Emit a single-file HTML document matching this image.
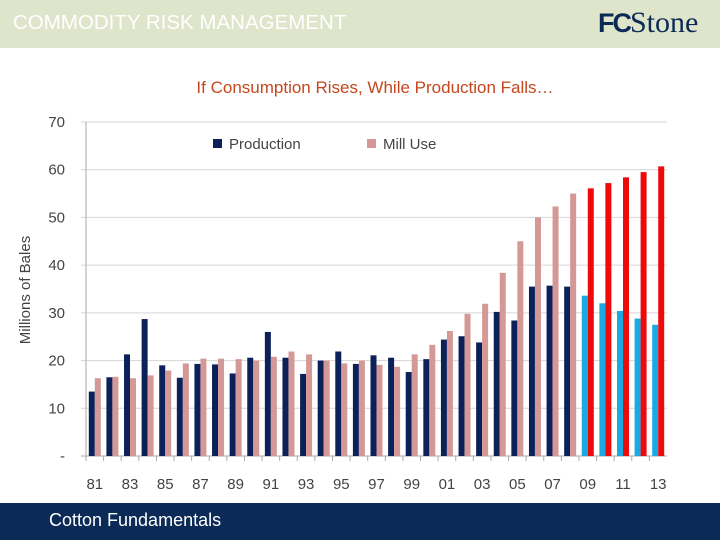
<!DOCTYPE html>
<html><head><meta charset="utf-8"><style>
body{margin:0;width:720px;height:540px;overflow:hidden;background:#fff;font-family:"Liberation Sans",sans-serif;position:relative}
.hdr{position:absolute;left:0;top:0;width:720px;height:48px;background:#dfe5cb}
.hdr .t{position:absolute;left:13px;top:11px;color:#fff;font-size:20.5px}
.logo{position:absolute;left:598px;top:6px;font-family:"Liberation Serif",serif;font-size:30px;color:#0b2a56}
.logo b{font-family:"Liberation Sans",sans-serif;font-weight:900;letter-spacing:-2px;font-size:27px}
.ftr{position:absolute;left:0;top:503px;width:720px;height:37px;background:#0b2a56}
.ftr span{position:absolute;left:49px;top:7px;color:#fff;font-size:18px}
.title{position:absolute;left:0;width:750px;text-align:center;top:78px;color:#c4471d;font-size:17px}
</style></head><body>
<div class="hdr"><span class="t">COMMODITY RISK MANAGEMENT</span>
<span class="logo"><b>FC</b>Stone</span></div>
<div class="title">If Consumption Rises, While Production Falls…</div>
<svg id="chart" width="720" height="540" style="position:absolute;left:0;top:0"></svg>
<div class="ftr"><span>Cotton Fundamentals</span></div>
<script>
const years=["81","82","83","84","85","86","87","88","89","90","91","92","93","94","95","96","97","98","99","00","01","02","03","04","05","06","07","08","09","10","11","12","13"];
const production=[13.5,16.5,21.3,28.7,19,16.4,19.3,19.2,17.3,20.6,26,20.6,17.2,20,21.9,19.3,21.1,20.6,17.6,20.3,24.4,25.1,23.8,30.2,28.4,35.5,35.7,35.5,33.6,32,30.4,28.8,27.5];
const millUse=[16.3,16.6,16.3,16.9,17.9,19.4,20.4,20.4,20.3,20,20.8,21.9,21.3,20,19.4,20,19.1,18.7,21.3,23.3,26.2,29.8,31.9,38.4,45,50,52.3,55,56.1,57.2,58.4,59.5,60.7];
const yTicks=[0,10,20,30,40,50,60,70];
const tickLabels=["-","10","20","30","40","50","60","70"];
const forecastStart=28;
const svg=document.getElementById('chart');
const NS='http://www.w3.org/2000/svg';
const x0=86,x1=667,y0=456,yTop=122;
const y=v=>y0-(v/70)*(y0-yTop);
const step=(x1-x0)/years.length;
const xc=i=>x0+step*(i+0.5);
function mk(t,a){const e=document.createElementNS(NS,t);for(const k in a)e.setAttribute(k,a[k]);svg.appendChild(e);return e;}
yTicks.forEach((v,i)=>{
 const l=mk('line',{x1:x0-5,x2:x1,y1:y(v),y2:y(v),stroke:v===0?'#aaa':'#d6d6d6','stroke-width':1});
 
 
 const t=mk('text',{x:65,y:y(v)+5,'text-anchor':'end','font-size':15,fill:'#444','font-family':'Liberation Sans,sans-serif'});
 t.textContent=tickLabels[i];
 
 
});
const ax=mk('line',{x1:x0,x2:x0,y1:yTop,y2:y0,stroke:'#aaa'});


const bw=6;
years.forEach((yr,i)=>{
 const c=xc(i);
 const tk=mk('line',{x1:x0+step*i,x2:x0+step*i,y1:y0,y2:y0+5,stroke:'#aaa'});
 
 
 const f=i>=forecastStart;
 const p=mk('rect',{x:c-bw,y:y(production[i]),width:bw,height:y0-y(production[i]),fill:f?'#1aa9e3':'#0c2159'});
 
 
 const m=mk('rect',{x:c,y:y(millUse[i]),width:bw,height:y0-y(millUse[i]),fill:f?'#ee0a0a':'#d49896'});
 
 
 if(i%2===0){const t=mk('text',{x:c,y:489,'text-anchor':'middle','font-size':15,fill:'#444','font-family':'Liberation Sans,sans-serif'});
 t.textContent=yr;
 
 }
});
const yt=mk('text',{x:0,y:0,transform:'translate(30,290) rotate(-90)','text-anchor':'middle','font-size':15,fill:'#444','font-family':'Liberation Sans,sans-serif'});
yt.textContent='Millions of Bales';


[['Production','#0c2159',213],['Mill Use','#d49896',367]].forEach(([n,col,lx])=>{
 const r=mk('rect',{x:lx,y:139,width:9,height:9,fill:col});
 
 
 const t=mk('text',{x:lx+16,y:149,'font-size':15,fill:'#444','font-family':'Liberation Sans,sans-serif'});
 t.textContent=n;
 
 
});
</script>
</body></html>
